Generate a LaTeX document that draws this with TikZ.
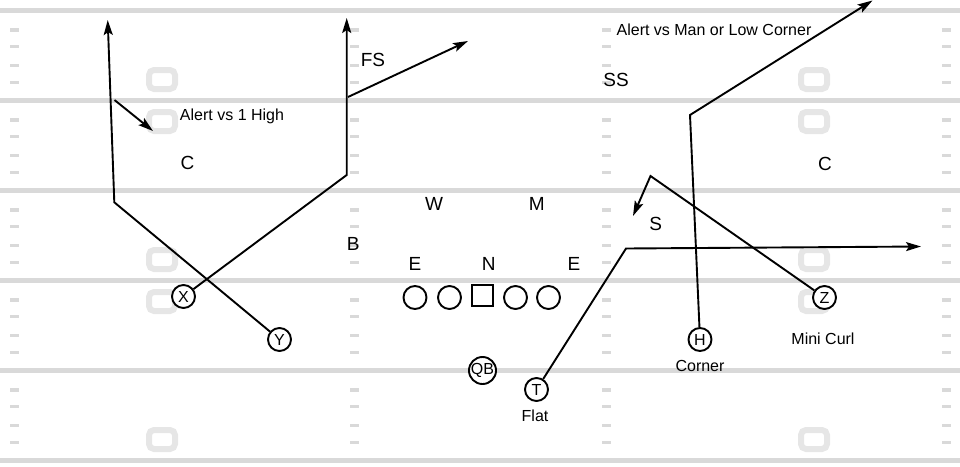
\documentclass[tikz,border=0pt]{standalone}
\usepackage{fontspec}
\setmainfont{Liberation Sans}
\usetikzlibrary{arrows.meta}
\definecolor{yardline}{RGB}{217,217,217}
\definecolor{yardnum} {RGB}{230,230,230}

\begin{document}
\begin{tikzpicture}[x=1pt, y=-1pt,
          yard/.style={yardline,line width=5pt},
          hashmark/.style={fill=yardline},
          numbox/.style={draw=yardnum,line width=6pt,rounded corners=5pt},
          player/.style={circle,draw,line width=1.9pt,fill=white,minimum size=23pt,inner sep=0pt,font=\fontsize{16}{16}\selectfont},
          snapper/.style={rectangle,draw,line width=1.9pt,fill=white,minimum size=21.5pt,inner sep=0pt},
          defender/.style={inner sep=0pt,font=\fontsize{19}{19}\selectfont},
          note/.style={inner sep=0pt,anchor=base,font=\fontsize{16}{16}\selectfont},
          route/.style={line width=1.9pt,line join=miter},
          routearrow/.style={route,-{Stealth[length=15pt,width=9pt,inset=3pt]}}
      ]
        \useasboundingbox (0,0) rectangle (960,466);
        \foreach \ly in {10.5,100.5,...,460.5}
          \draw[yard] (0,\ly) -- (960,\ly);
        \foreach \ly in {10.5,100.5,...,370.5}
          \foreach \j in {19.5,36,55,72}
            \foreach \hx in {10,350,602,942}
              \fill[hashmark] (\hx,\ly+\j-1.75) rectangle (\hx+9,\ly+\j+1.75);
        \foreach \nx in {162,814}
          \foreach \ny in {79.5,121.5,259.5,301.5,439.5}
            \draw[numbox] (\nx-13,\ny-9.5) rectangle (\nx+13,\ny+9.5);

        \node[defender] (cl)  at (187.5,163) {C};
        \node[defender] (cr)  at (825,164)   {C};
        \node[defender] (fs)  at (373,60)    {FS};
        \node[defender] (ss)  at (616,80)    {SS};
        \node[defender] (w)   at (434,203.5) {W};
        \node[defender] (m)   at (536.7,203.5) {M};
        \node[defender] (b)   at (353.3,243.5) {B};
        \node[defender] (el)  at (415,264)   {E};
        \node[defender] (n)   at (488.7,264) {N};
        \node[defender] (er)  at (574,264)   {E};
        \node[defender] (s)   at (655.8,224) {S};

        \node[player]  (X)  at (183.5,296.5) {X};
        \node[player]  (Y)  at (279.5,339.5) {Y};
        \node[player]  (H)  at (700,339.5)   {H};
        \node[player]  (Z)  at (824.5,297.5) {Z};
        \node[player]  (T)  at (536.5,389.5) {T};
        \node[player]  (QB) at (482.5,370.5) {QB};
        \node[player]  (lt) at (415,297.5)   {};
        \node[player]  (lg) at (449.5,297.5) {};
        \node[snapper] (c)  at (482.3,295.5) {};
        \node[player]  (rg) at (515.5,297.5) {};
        \node[player]  (rt) at (548.5,297.5) {};

        \node[note] (alerthigh) at (232,120.5) {Alert vs 1 High};
        \node[note] (alertman)  at (714,35)    {Alert vs Man or Low Corner};
        \node[note] (curl)      at (823,344.3) {Mini Curl};
        \node[note] (corner)    at (700,371.5) {Corner};
        \node[note] (flat)      at (535,421.5) {Flat};

        \coordinate (xcut)  at (346.7,175);
        \coordinate (xgo)   at (346.7,18);
        \coordinate (fsout) at (348,97);
        \coordinate (fsend) at (468,41);
        \coordinate (ycut)  at (114.3,202.3);
        \coordinate (ygo)   at (107.7,20);
        \coordinate (hiout) at (114.5,100);
        \coordinate (hiend) at (153,131);
        \coordinate (hcut)  at (690,115);
        \coordinate (hgo)   at (872.5,0.5);
        \coordinate (zcut)  at (650.5,176);
        \coordinate (zend)  at (633,216);
        \coordinate (tcut)  at (626,248.5);
        \coordinate (tend)  at (921,246.5);

        \draw[routearrow] (X) -- (xcut) -- (xgo);
        \draw[routearrow] (fsout) -- (fsend);
        \draw[routearrow] (Y) -- (ycut) -- (ygo);
        \draw[routearrow] (hiout) -- (hiend);
        \draw[routearrow] (H) -- (hcut) -- (hgo);
        \draw[routearrow] (Z) -- (zcut) -- (zend);
        \draw[routearrow] (T) -- (tcut) -- (tend);
      \end{tikzpicture}
\end{document}
